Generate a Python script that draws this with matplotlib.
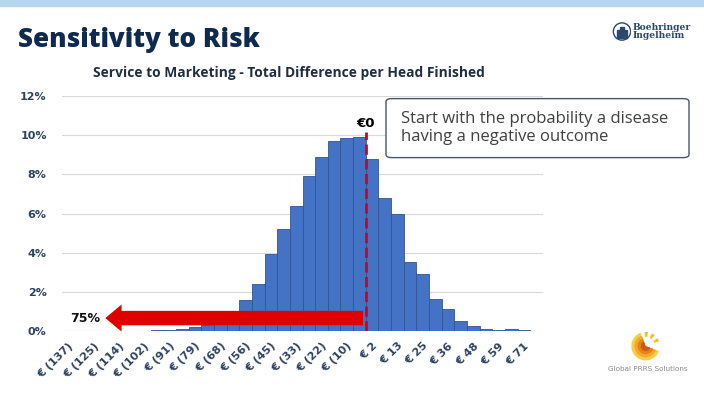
import numpy as np
import matplotlib.pyplot as plt
from matplotlib.patches import FancyBboxPatch, Rectangle, Circle, Wedge

# share of simulations per bin (%)
pct = [0.0, 0.0, 0.0, 0.0, 0.0, 0.01, 0.02, 0.03, 0.07, 0.10,
       0.20, 0.31, 0.48, 0.80, 1.57, 2.42, 3.92, 5.19, 6.38, 7.93,
       8.90, 9.72, 9.84, 9.92, 8.78, 6.78, 5.96, 3.54, 2.89, 1.62,
       1.12, 0.53, 0.27, 0.10, 0.03, 0.08, 0.03, 0.0]

# every other bin gets a label
tick_labels = ['€ (137)', '€ (125)', '€ (114)', '€ (102)', '€ (91)', '€ (79)',
               '€ (68)', '€ (56)', '€ (45)', '€ (33)', '€ (22)', '€ (10)',
               '€ 2', '€ 13', '€ 25', '€ 36', '€ 48', '€ 59', '€ 71']
y_ticks = [0, 2, 4, 6, 8, 10, 12]

zero_bin = 23.5      # break-even sits between bin 23 and bin 24
arrow_tip = 2.7
arrow_y = 0.66

BLUE = '#4472C4'
NAVY = '#0E2B4F'
LABEL = '#2E4260'

fig = plt.figure(figsize=(7.04, 3.94), dpi=100)
fig.patch.set_facecolor('white')

# light blue band along the top of the slide
fig.patches.append(Rectangle((0, 0.986), 1, 0.014, transform=fig.transFigure,
                             color='#B5D6EC', zorder=0))

fig.text(0.025, 0.898, 'Sensitivity to Risk', fontsize=18.7, fontweight='heavy',
         color=NAVY, family='Open Sans', va='center')
fig.text(0.411, 0.814, 'Service to Marketing - Total Difference per Head Finished',
         fontsize=9.9, fontweight='bold', color='#1F2F42', family='Open Sans',
         ha='center', va='center')

ax = fig.add_axes([0.0881, 0.1599, 0.6832, 0.5964])
x = np.arange(len(pct))
ax.bar(x, pct, width=1.0, color=BLUE, edgecolor='#2F5597', linewidth=0.6, zorder=2)

ax.set_xlim(-0.5, len(pct) - 0.5)
ax.set_ylim(0, 12)
ax.set_yticks(y_ticks)
ax.set_yticklabels([f'{v}%' for v in y_ticks])
ax.set_xticks(x[::2])
ax.set_xticklabels(tick_labels, rotation=45, ha='right', rotation_mode='anchor')
ax.tick_params(axis='both', length=0, labelcolor=LABEL)
ax.tick_params(axis='x', pad=7)
ax.tick_params(axis='y', pad=11)
for lbl in ax.get_xticklabels() + ax.get_yticklabels():
    lbl.set_fontweight('bold')
    lbl.set_fontsize(8)
ax.grid(axis='y', color='#D9D9D9', linewidth=0.8, zorder=0)
for s in ax.spines.values():
    s.set_visible(False)

# break-even marker
ax.plot([zero_bin, zero_bin], [0, 10.15], color='#D0021B', linestyle='--',
        linewidth=2, zorder=4)
ax.text(zero_bin, 10.6, '€0', ha='center', va='center', fontsize=9.5,
        fontweight='bold', color='black')

# red arrow showing share left of break-even
ax.annotate('', xy=(arrow_tip, arrow_y), xytext=(zero_bin, arrow_y),
            arrowprops=dict(arrowstyle='simple,head_length=0.9,head_width=1.5,tail_width=0.8',
                            color='#E00000', lw=0, mutation_scale=13),
            zorder=5)
ax.text(0.12, arrow_y, '75%', ha='left', va='center', fontsize=9,
        fontweight='bold', color='#111111')

# call-out box
box = FancyBboxPatch((0.5483, 0.6), 0.4304, 0.1497, transform=fig.transFigure,
                     boxstyle='round,pad=0,rounding_size=0.008',
                     facecolor='white', edgecolor='#4A5566', linewidth=1.0)
fig.patches.append(box)
fig.text(0.569, 0.675, 'Start with the probability a disease\nhaving a negative outcome',
         fontsize=12, color='#404040', family='Open Sans', va='center',
         linespacing=1.12)

# Boehringer Ingelheim mark
bi = fig.add_axes([0.870, 0.893, 0.027, 0.054])
bi.set_xlim(-1.1, 1.1)
bi.set_ylim(-1.1, 1.1)
bi.set_aspect('equal')
bi.axis('off')
bi.add_patch(Circle((0, 0), 1, facecolor='white', edgecolor='#2B4A6B', linewidth=1.0))
for bx, bh in [(-0.45, 0.9), (-0.15, 1.3), (0.15, 1.3), (0.45, 0.9)]:
    bi.add_patch(Rectangle((bx - 0.1, -0.75), 0.2, bh, color='#2B4A6B'))
fig.text(0.899, 0.920, 'Boehringer\nIngelheim', fontsize=6.6, color='#2B4A6B',
         family='DejaVu Serif', fontweight='bold', va='center', linespacing=0.95)

# Global PRRS Solutions mark
gp = fig.add_axes([0.888, 0.078, 0.058, 0.087])
gp.set_xlim(-1.2, 1.2)
gp.set_ylim(-1.2, 1.2)
gp.set_aspect('equal')
gp.axis('off')
for r, c in [(1.0, '#F5D040'), (0.78, '#F2A82A'), (0.56, '#E8801E'), (0.34, '#C85A1A')]:
    gp.add_patch(Wedge((0, 0), r, 110, 340, facecolor=c, edgecolor='none'))
for a in [20, 50, 80]:
    gp.add_patch(Wedge((0, 0), 1.0, a, a + 14, width=0.35, facecolor='#F2C030',
                       edgecolor='none'))
fig.text(0.920, 0.063, 'Global PRRS Solutions', fontsize=5.2, color='#8A8A8A',
         ha='center', va='center')

fig.savefig('out.png', dpi=100, facecolor='white')
